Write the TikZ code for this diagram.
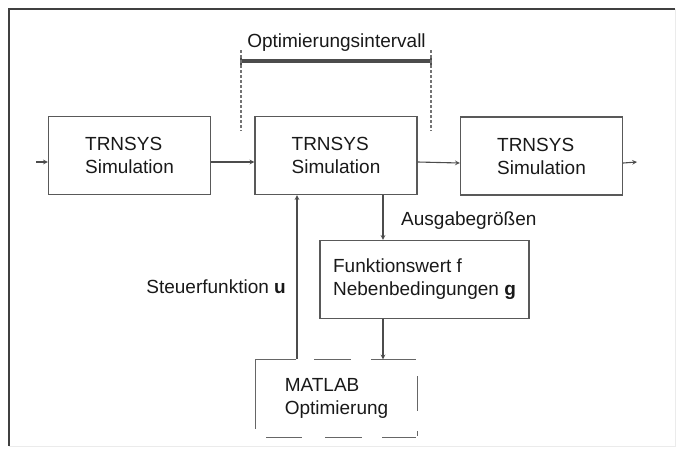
\documentclass[tikz,border=0pt]{standalone}
\usepackage{fontspec}
\setmainfont{Liberation Sans}
\usetikzlibrary{arrows,positioning,calc}
\tikzset{>=stealth}
\tikzset{
  txt/.style={font=\fontsize{19}{23}\selectfont, text=black!90},
  simbox/.style={txt, draw=black!65, line width=1.4pt, minimum width=162pt, minimum height=78pt, align=left},
  matline/.style={draw=black!60, line width=1.4pt},
  conn/.style={->, draw=black!70, line width=1.1pt},
  dotline/.style={draw=black!55, line width=1.6pt, dash pattern=on 3pt off 2pt},
}

\begin{document}
\begin{tikzpicture}[x=1pt, y=-1pt]
  \useasboundingbox (0,0) rectangle (677,459);
  \draw[black!75, line width=2pt] (9,446) -- (9,9) -- (675,9);
  \draw[black!8, line width=1pt] (675,9) -- (675,446) -- (9,446);

  \node[simbox] (sim1) at (129.5,155.5) {TRNSYS\\Simulation};
  \node[simbox] (sim2) at (336,155.5) {TRNSYS\\Simulation};
  \node[simbox] (sim3) at (541.5,156) {TRNSYS\\Simulation};
  \node[simbox, minimum width=209pt] (fwert) at (424.5,279.5) {Funktionswert f\\Nebenbedingungen \textbf{g}};
  \node[simbox, draw=none, minimum width=161pt, minimum height=77pt] (matlab) at (336.5,398.5) {MATLAB\\Optimierung};

  \node[txt, inner sep=0] (intv) at (336.5,43) {Optimierungsintervall};
  \node[txt, inner sep=0, anchor=west] (ausg) at (401,221) {Ausgabegrößen};
  \node[txt, inner sep=0, anchor=east] (steuer) at (286,287) {Steuerfunktion \textbf{u}};

  % gestrichelter Rahmen um MATLAB
  \foreach \a/\b in {0/41,59/96,116/161}
    \draw[matline] ([xshift=\a pt]matlab.north west) -- ([xshift=\b pt]matlab.north west);
  \foreach \a/\b in {11/47,70/107,127/161}
    \draw[matline] ([xshift=\a pt]matlab.south west) -- ([xshift=\b pt]matlab.south west);
  \foreach \a/\b in {17/52,72/77}
    \draw[matline] ([yshift=-\a pt]matlab.north east) -- ([yshift=-\b pt]matlab.north east);
  \draw[matline] (matlab.north west) -- ([yshift=-70pt]matlab.north west);

  \coordinate (ein) at (36,162);
  \coordinate (aus) at (637,162);
  \coordinate (lft) at (241,61);
  \coordinate (rgt) at (431,61);
  \coordinate (tap) at ([xshift=47pt]sim2.south);

  \draw[black!70, line width=4.5pt] (lft) -- (rgt);
  \draw[black!70, line width=1.5pt] ([yshift=-4pt]lft) -- ([yshift=6pt]lft);
  \draw[black!70, line width=1.5pt] ([yshift=-4pt]rgt) -- ([yshift=6pt]rgt);
  \draw[dotline] ([yshift=11pt]lft) -- ++(0,81);
  \draw[dotline] ([yshift=11pt]rgt) -- ++(0,81);

  \draw[conn] (ein) -- ([yshift=-6.5pt]sim1.west);
  \draw[conn] ([yshift=-6.5pt]sim1.east) -- ([yshift=-6.5pt]sim2.west);
  \draw[conn] ([yshift=-6.5pt]sim2.east) -- ([yshift=-7pt]sim3.west);
  \draw[conn] ([yshift=-7pt]sim3.east) -- (aus);
  \draw[conn] (tap) -- (tap |- fwert.north);
  \draw[conn] (tap |- fwert.south) -- (tap |- matlab.north);
  \draw[conn] ([xshift=-39.5pt]matlab.north) -- ([xshift=-39pt]sim2.south);
\end{tikzpicture}
\end{document}
